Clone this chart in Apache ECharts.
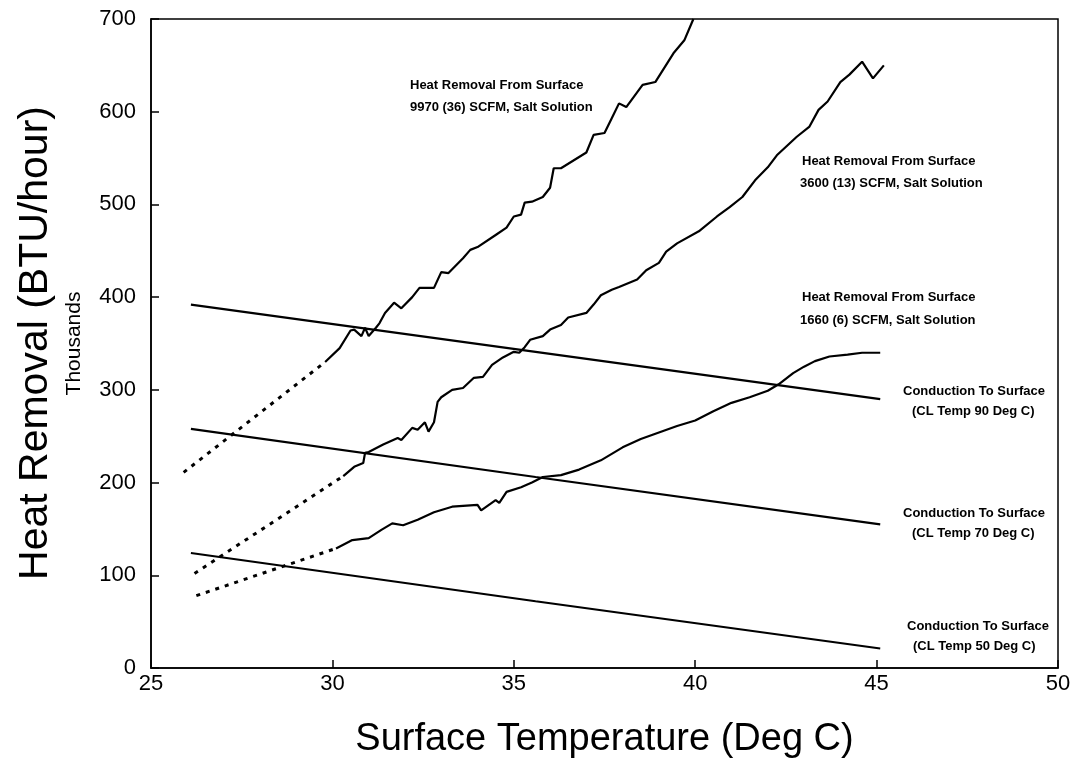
<!DOCTYPE html>
<html>
<head>
<meta charset="utf-8">
<script src="https://cdn.jsdelivr.net/npm/echarts@6/dist/echarts.min.js"></script>
<style>
  html, body { margin: 0; padding: 0; background: #fff; }
  #main { width: 1077px; height: 763px; }
</style>
</head>
<body>
<div id="main"></div>
<script>
// 数据: [温度, 热量(千)]
var xTicks = [25, 30, 35, 40, 45, 50];
var yTicks = [0, 100, 200, 300, 400, 500, 600, 700];

// 9970 (36) SCFM
var flow9970Dot = [[25.9, 211], [29.8, 330]];
var flow9970 = [
  [29.8, 330], [30.2, 345], [30.5, 364], [30.6, 365], [30.8, 358], [30.9, 367],
  [31.0, 358], [31.2, 367], [31.3, 372], [31.45, 383], [31.7, 394], [31.9, 388],
  [32.2, 400], [32.4, 410], [32.8, 410], [33.0, 427], [33.2, 426], [33.6, 442],
  [33.8, 451], [34.0, 454], [34.5, 467], [34.8, 475], [35.0, 487], [35.2, 489],
  [35.3, 502], [35.5, 503], [35.8, 508], [36.0, 518], [36.1, 539], [36.3, 539],
  [37.0, 556], [37.2, 575], [37.5, 577], [37.7, 593], [37.9, 609], [38.1, 605],
  [38.55, 629], [38.9, 632], [39.4, 663], [39.7, 677], [39.95, 700]
];

// 3600 (13) SCFM
var flow3600Dot = [[26.2, 102], [30.3, 207]];
var flow3600 = [
  [30.3, 207], [30.6, 217], [30.85, 221], [30.9, 232], [31.0, 233], [31.4, 241],
  [31.8, 248], [31.9, 246], [32.2, 259], [32.35, 257], [32.55, 265], [32.65, 255],
  [32.8, 265], [32.9, 287], [33.0, 292], [33.3, 300], [33.6, 302], [33.9, 313],
  [34.15, 314], [34.4, 327], [34.7, 335], [35.0, 341], [35.15, 340], [35.3, 346],
  [35.45, 354], [35.8, 358], [36.0, 365], [36.3, 370], [36.5, 378], [37.0, 383],
  [37.2, 392], [37.4, 402], [37.7, 408], [37.9, 411], [38.4, 419], [38.65, 429],
  [39.0, 437], [39.2, 449], [39.5, 458], [40.1, 471], [40.6, 487], [40.95, 497],
  [41.3, 508], [41.65, 526], [42.0, 540], [42.25, 553], [42.8, 573], [43.15, 584],
  [43.4, 602], [43.65, 611], [44.0, 632], [44.25, 640], [44.6, 654], [44.9, 636],
  [45.2, 650]
];

// 1660 (6) SCFM
var flow1660Dot = [[26.25, 78], [30.1, 129]];
var flow1660 = [
  [30.1, 129], [30.55, 138], [31.0, 140], [31.35, 149], [31.65, 156], [31.95, 154],
  [32.35, 160], [32.8, 168], [33.3, 174], [34.0, 176], [34.1, 170], [34.5, 181],
  [34.6, 178], [34.8, 190], [35.2, 195], [35.5, 200], [35.8, 206], [36.3, 208],
  [36.8, 214], [37.4, 224], [38.0, 238], [38.5, 247], [39.0, 254], [39.5, 261],
  [40.0, 267], [40.5, 277], [41.0, 286], [41.5, 292], [42.0, 299], [42.3, 306],
  [42.7, 318], [43.0, 325], [43.3, 331], [43.7, 336], [44.2, 338], [44.6, 340],
  [45.1, 340]
];

// 传导曲线
var cond90 = [[26.1, 392], [35.6, 341], [45.1, 290]];
var cond70 = [[26.1, 258], [35.6, 206], [45.1, 155]];
var cond50 = [[26.1, 124], [35.6, 72], [45.1, 21]];

var chart = echarts.init(document.getElementById('main'));

function solid(name, data) {
  return {
    name: name, type: 'line', data: data, symbol: 'none', animation: false,
    lineStyle: { color: '#000', width: 2.2 }
  };
}
function dotted(name, data) {
  return {
    name: name, type: 'line', data: data, symbol: 'none', animation: false,
    lineStyle: { color: '#000', width: 3, type: [4, 6] }
  };
}

var noteFont = 'bold 13px "Liberation Sans", Arial, sans-serif';
function note(x, y, str) {
  return {
    type: 'text', left: x, top: y,
    style: { text: str, font: noteFont, fill: '#000' }
  };
}

option = {
  backgroundColor: '#fff',
  grid: {
    left: 151, right: 19, top: 19, bottom: 95,
    outerBoundsMode: 'none', containLabel: false,
    show: true, borderColor: '#000', borderWidth: 1.5
  },
  xAxis: {
    type: 'value', min: 25, max: 50, interval: 5,
    name: 'Surface Temperature (Deg C)',
    nameLocation: 'middle', nameGap: 53,
    nameTextStyle: { fontSize: 38, color: '#000', fontFamily: 'Liberation Sans' },
    axisLine: { lineStyle: { color: '#000', width: 1.5 } },
    axisTick: { inside: true, length: 8, lineStyle: { color: '#000', width: 1.5 } },
    axisLabel: {
      color: '#000', fontSize: 22, margin: 5, fontFamily: 'Liberation Sans',
      formatter: function (v) { return xTicks.indexOf(v) >= 0 ? String(v) : ''; }
    },
    splitLine: { show: false }
  },
  yAxis: {
    type: 'value', min: 0, max: 700, interval: 100,
    name: 'Thousands',
    nameLocation: 'middle', nameGap: 66,
    nameTextStyle: { fontSize: 21, color: '#000', fontFamily: 'Liberation Sans' },
    axisLine: { lineStyle: { color: '#000', width: 1.5 } },
    axisTick: { inside: true, length: 8, lineStyle: { color: '#000', width: 1.5 } },
    axisLabel: {
      color: '#000', fontSize: 22, margin: 15, fontFamily: 'Liberation Sans',
      formatter: function (v) { return yTicks.indexOf(v) >= 0 ? String(v) : ''; }
    },
    splitLine: { show: false }
  },
  series: [
    dotted('9970 ext', flow9970Dot), solid('9970', flow9970),
    dotted('3600 ext', flow3600Dot), solid('3600', flow3600),
    dotted('1660 ext', flow1660Dot), solid('1660', flow1660),
    solid('CL 90', cond90), solid('CL 70', cond70), solid('CL 50', cond50)
  ],
  graphic: [
    {
      type: 'text', x: 36, y: 343, rotation: Math.PI / 2,
      style: {
        text: 'Heat Removal (BTU/hour)', fill: '#000',
        font: '41px "Liberation Sans", Arial, sans-serif',
        textAlign: 'center', textVerticalAlign: 'middle'
      }
    },
    note(410, 79, 'Heat Removal From Surface'),
    note(410, 101, '9970 (36) SCFM, Salt Solution'),
    note(802, 155, 'Heat Removal From Surface'),
    note(800, 177, '3600 (13) SCFM, Salt Solution'),
    note(802, 291, 'Heat Removal From Surface'),
    note(800, 314, '1660 (6) SCFM, Salt Solution'),
    note(903, 385, 'Conduction To Surface'),
    note(912, 405, '(CL Temp 90 Deg C)'),
    note(903, 507, 'Conduction To Surface'),
    note(912, 527, '(CL Temp 70 Deg C)'),
    note(907, 620, 'Conduction To Surface'),
    note(913, 640, '(CL Temp 50 Deg C)')
  ]
};
chart.setOption(option);
</script>
</body>
</html>
